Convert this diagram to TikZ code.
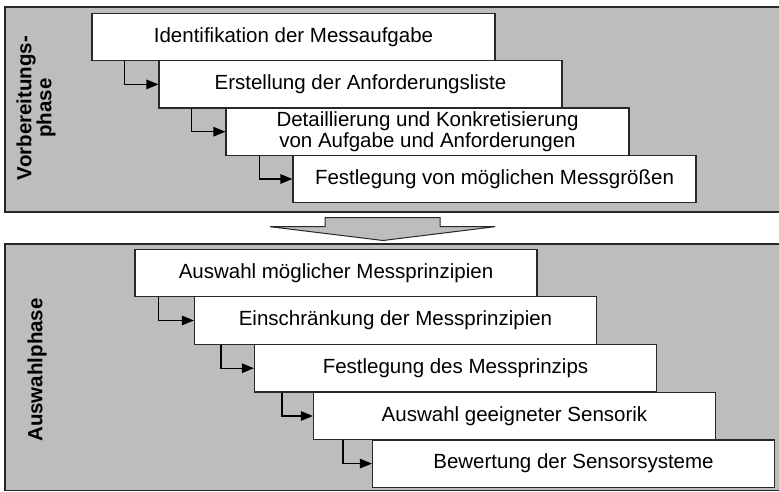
\documentclass[tikz,border=0pt]{standalone}
\usepackage{fontspec}
\setmainfont{Liberation Sans}
\usetikzlibrary{arrows.meta}
\definecolor{phasegray}{RGB}{189,189,189}
\definecolor{linegray}{RGB}{40,40,40}

\tikzset{
  phase/.style={draw=linegray, line width=1.2pt, fill=phasegray},
  stepbox/.style={rectangle, draw=linegray, line width=1.2pt, fill=white,
    minimum width=403pt, minimum height=47.4pt, inner sep=0pt, align=center,
    font=\fontsize{20.5}{18}\selectfont},
  phaselabel/.style={rotate=90, align=center, font=\bfseries\fontsize{20.5}{20}\selectfont},
  next/.style={-{Triangle[length=12pt,width=9.5pt]}, line width=1.3pt, draw=black},
}

\begin{document}
\begin{tikzpicture}[x=1pt, y=-1pt]
  \useasboundingbox (0,0) rectangle (779,492);

  % the two phases
  \draw[phase] (5,7) rectangle (784,212);
  \draw[phase] (5,244) rectangle (784,490.5);

  \node[phaselabel] (vlabel) at (36,108) {Vorbereitungs-\\phase};
  \node[phaselabel] (alabel) at (37,370) {Auswahlphase};

  % steps of the preparation phase
  \node[stepbox] (v1) at (293.5,37) {Identifikation der Messaufgabe};
  \node[stepbox] (v2) at (360.5,84.4) {Erstellung der Anforderungsliste};
  \node[stepbox] (v3) at (427.5,131.7) {Detaillierung und Konkretisierung\\von Aufgabe und Anforderungen};
  \node[stepbox] (v4) at (494.5,179) {Festlegung von möglichen Messgrößen};

  \draw[next] ([xshift=33pt]v1.south west) |- (v2.west);
  \draw[next] ([xshift=33pt]v2.south west) |- (v3.west);
  \draw[next] ([xshift=34pt]v3.south west) |- (v4.west);

  % block arrow between the phases
  \draw[draw=linegray, line width=1pt, fill=phasegray, line join=miter]
    (325,217.7) -- (440,217.7) -- (440,226.7) -- (495,226.7) -- (383,240.5)
    -- (270,226.7) -- (325,226.7) -- cycle;

  % steps of the selection phase
  \node[stepbox, minimum width=402pt] (a1) at (336,273) {Auswahl möglicher Messprinzipien};
  \node[stepbox, minimum width=402pt] (a2) at (395.5,320.5) {Einschränkung der Messprinzipien};
  \node[stepbox, minimum width=402pt] (a3) at (455.5,368.2) {Festlegung des Messprinzips};
  \node[stepbox, minimum width=402pt] (a4) at (514.5,416) {Auswahl geeigneter Sensorik};
  \node[stepbox, minimum width=402pt] (a5) at (573.5,463.6) {Bewertung der Sensorsysteme};

  \draw[next] ([xshift=24pt]a1.south west) |- (a2.west);
  \draw[next] ([xshift=27pt]a2.south west) |- (a3.west);
  \draw[next] ([xshift=28pt]a3.south west) |- (a4.west);
  \draw[next] ([xshift=30pt]a4.south west) |- (a5.west);
\end{tikzpicture}
\end{document}
